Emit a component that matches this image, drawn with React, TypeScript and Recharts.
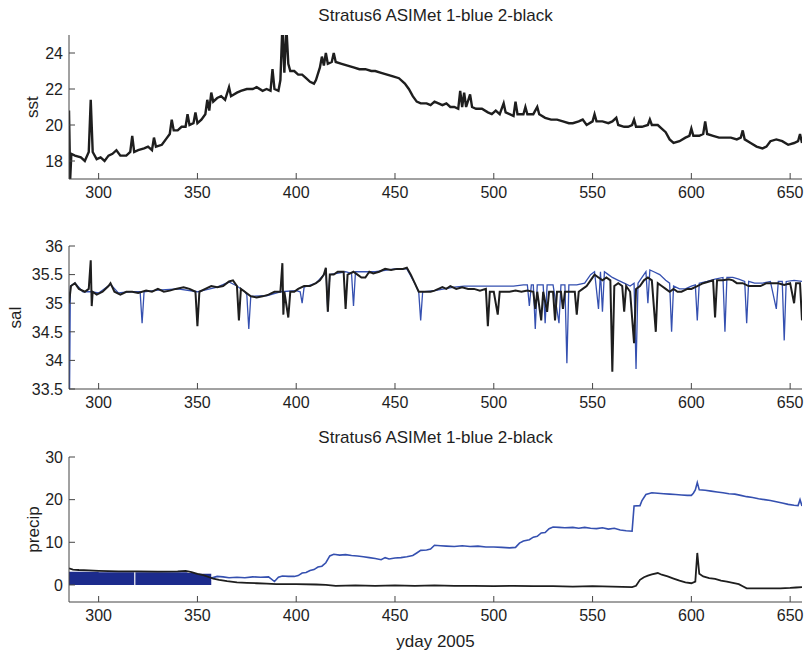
import { ComposedChart, Line, Area, XAxis, YAxis } from 'recharts'

const FONT = '"Liberation Sans", Arial, Helvetica, sans-serif'
const AXIS = '#454545'
const INK = '#1e1e1e'
const BLUE = '#3550b0'
const NAVY = '#1c2b8c'
const TICK = 6

const X_DOMAIN = [285, 656]
const X_TICKS = [300, 350, 400, 450, 500, 550, 600, 650]
const TITLE = 'Stratus6 ASIMet 1-blue 2-black'

// sst, sensor 2 (black); sensor 1 sits underneath it
const SST_DAY = [285, 285.6, 286.2, 288, 291, 293, 295, 296, 297, 299, 301, 303, 305, 307, 309, 311, 314, 316, 317, 318, 320, 323, 325, 327, 328, 329, 332, 334, 336, 337, 338, 340, 342, 344, 345, 346, 348, 349, 350, 352, 354, 355, 356, 357, 358, 360, 362, 364, 366, 367, 370, 372, 375, 378, 380, 383, 385, 387, 388, 389, 391, 392, 393, 394, 395, 396, 397, 399, 401, 403, 405, 407, 409, 410, 412, 413, 414, 415, 416, 418, 419, 420, 423, 426, 429, 432, 435, 438, 440, 443, 446, 449, 452, 455, 457, 459, 461, 463, 466, 468, 470, 472, 474, 476, 478, 480, 482, 483, 484, 485, 486, 488, 489, 491, 494, 497, 499, 501, 503, 505, 506, 508, 510, 511, 512, 515, 516, 517, 520, 522, 523, 526, 529, 532, 535, 538, 540, 543, 545, 547, 550, 551, 552, 555, 558, 560, 562, 563, 566, 568, 570, 571, 572, 575, 578, 579, 580, 583, 585, 587, 589, 591, 594, 597, 599, 600, 601, 604, 606, 607, 608, 611, 614, 617, 620, 623, 625, 626, 627, 630, 633, 636, 638, 640, 643, 646, 649, 652, 654, 655, 656]
const SST_BLACK = [20.8, 17.0, 18.4, 18.3, 18.2, 18.0, 18.5, 21.4, 18.5, 18.1, 18.2, 18.0, 18.3, 18.4, 18.6, 18.3, 18.3, 18.5, 19.4, 18.5, 18.6, 18.7, 18.8, 18.6, 19.3, 18.8, 18.9, 19.2, 19.5, 20.3, 19.7, 19.7, 19.9, 19.9, 20.6, 20.0, 20.1, 20.7, 20.1, 20.3, 20.6, 21.4, 20.8, 21.8, 21.3, 21.5, 21.6, 21.4, 22.1, 21.6, 21.8, 21.9, 22.0, 22.0, 22.1, 21.9, 22.0, 21.9, 23.1, 22.0, 21.9, 22.5, 25.5, 22.9, 25.5, 23.4, 23.0, 23.0, 22.8, 22.8, 22.6, 22.4, 22.3, 22.5, 23.2, 23.8, 23.3, 24.0, 23.4, 23.5, 24.0, 23.5, 23.4, 23.3, 23.2, 23.1, 23.1, 23.0, 23.0, 22.9, 22.8, 22.7, 22.6, 22.3, 22.0, 21.6, 21.3, 21.2, 21.2, 21.1, 21.3, 21.2, 21.1, 21.2, 21.0, 21.0, 20.9, 21.9, 21.0, 21.8, 21.0, 21.7, 21.0, 20.9, 20.9, 20.7, 20.6, 20.8, 20.6, 21.2, 20.7, 20.6, 20.5, 21.3, 20.6, 20.6, 21.0, 20.6, 20.6, 21.0, 20.6, 20.4, 20.3, 20.3, 20.2, 20.1, 20.1, 20.2, 20.3, 20.0, 20.2, 20.6, 20.2, 20.2, 20.1, 20.2, 20.4, 20.0, 19.9, 19.9, 20.0, 20.3, 19.9, 19.9, 20.0, 20.3, 20.0, 20.0, 19.8, 19.6, 19.2, 19.0, 19.1, 19.3, 19.4, 19.8, 19.4, 19.4, 19.5, 20.2, 19.5, 19.4, 19.3, 19.3, 19.3, 19.2, 19.3, 19.7, 19.2, 19.0, 18.8, 18.7, 18.8, 19.1, 19.2, 19.1, 18.9, 19.0, 19.1, 19.5, 19.0]

// salinity, sensor 1 (blue)
const SAL_BLUE_DAY = [285, 285.3, 285.7, 288, 292, 296, 300, 306, 310, 316, 321, 322, 323, 330, 340, 350, 360, 366, 370, 374, 375, 376, 377, 385, 392, 400, 402, 403, 404, 410, 414, 415, 416, 417, 425, 428, 429, 430, 440, 450, 456, 460, 462, 463, 464, 470, 480, 485, 490, 495, 500, 505, 510, 515, 517, 518, 519, 520, 521, 522, 525, 526, 527, 530, 533, 534, 536, 537, 538, 542, 546, 549, 551, 553, 554, 555, 556, 558, 560, 563, 566, 569, 571, 572, 573, 575, 577, 578, 579, 581, 584, 587, 589, 590, 591, 594, 597, 600, 602, 603, 604, 608, 612, 616, 617, 618, 621, 624, 627, 628, 629, 632, 636, 640, 643, 644, 646, 647, 648, 652, 656]
const SAL_BLUE = [35.2, 33.5, 35.3, 35.35, 35.2, 35.2, 35.18, 35.33, 35.18, 35.2, 35.2, 34.65, 35.2, 35.23, 35.25, 35.2, 35.28, 35.37, 35.3, 35.2, 35.15, 34.55, 35.12, 35.13, 35.2, 35.22, 35.2, 35.0, 35.28, 35.35, 35.5, 35.6, 34.85, 35.5, 35.55, 35.52, 34.95, 35.55, 35.55, 35.6, 35.6, 35.35, 35.2, 34.7, 35.2, 35.22, 35.28, 35.3, 35.3, 35.3, 35.3, 35.3, 35.3, 35.32, 35.32, 34.95, 35.32, 35.32, 34.55, 35.32, 35.32, 34.65, 35.32, 35.32, 34.65, 35.32, 35.32, 33.95, 35.32, 35.32, 35.35, 35.5, 35.55, 34.9, 35.55, 34.85, 35.55, 35.5, 35.45, 35.4, 35.35, 35.3, 35.35, 33.85, 35.35, 35.45, 35.55, 35.0, 35.58, 35.55, 35.5, 35.4, 35.35, 34.5, 35.3, 35.25, 35.25, 35.3, 35.32, 34.7, 35.35, 35.38, 35.42, 35.45, 34.5, 35.45, 35.45, 35.42, 35.38, 34.65, 35.38, 35.35, 35.35, 35.38, 34.9, 35.38, 35.38, 34.35, 35.38, 35.4, 35.38]

// salinity, sensor 2 (black)
const SAL_BLACK_DAY = [285, 286, 288, 290, 293, 295, 296, 296.5, 297, 299, 302, 305, 306, 308, 311, 314, 317, 320, 324, 327, 330, 333, 336, 339, 343, 346, 349, 350, 351, 354, 357, 360, 363, 366, 368, 370, 371, 372, 374, 377, 380, 383, 386, 389, 392, 393, 393.5, 394, 396, 397, 399, 401, 404, 407, 410, 412, 414, 415, 416, 417, 419, 421, 424, 425, 426, 429, 431, 433, 435, 437, 439, 442, 445, 448, 451, 454, 456, 458, 460, 462, 465, 468, 470, 472, 474, 476, 478, 481, 484, 487, 490, 493, 496, 497, 498, 500, 502, 503, 505, 508, 511, 514, 517, 520, 521, 522, 524, 525, 527, 528, 530, 531, 532, 534, 535, 536, 539, 541, 542, 543, 545, 547, 549, 551, 553, 555, 557, 559, 560, 561, 563, 565, 566, 567, 569, 571, 572, 574, 576, 578, 580, 582, 583, 585, 587, 589, 591, 593, 595, 598, 600, 603, 606, 609, 611, 612, 613, 616, 619, 621, 623, 626, 629, 632, 635, 638, 641, 644, 647, 650, 652, 653, 655, 656]
const SAL_BLACK = [35.0, 35.3, 35.35, 35.25, 35.2, 35.25, 35.75, 34.95, 35.2, 35.15, 35.2, 35.3, 35.35, 35.2, 35.15, 35.2, 35.2, 35.18, 35.22, 35.2, 35.25, 35.2, 35.22, 35.25, 35.28, 35.25, 35.2, 34.6, 35.2, 35.25, 35.3, 35.28, 35.3, 35.38, 35.4, 35.3, 34.7, 35.25, 35.2, 35.12, 35.1, 35.12, 35.15, 35.2, 35.2, 35.7, 34.8, 35.2, 34.75, 35.2, 35.2, 35.25, 35.3, 35.3, 35.35, 35.4, 35.5, 35.62, 34.85, 35.5, 35.5, 35.55, 35.55, 34.9, 35.5, 35.55, 35.5, 35.45, 35.45, 35.55, 35.52, 35.55, 35.6, 35.58, 35.6, 35.6, 35.62, 35.5, 35.35, 35.2, 35.2, 35.2, 35.22, 35.25, 35.28, 35.25, 35.3, 35.25, 35.28, 35.25, 35.25, 35.22, 35.25, 34.6, 35.2, 35.2, 34.8, 35.2, 35.2, 35.2, 35.22, 35.2, 35.22, 35.2, 34.9, 35.2, 34.7, 35.2, 34.85, 35.2, 35.2, 34.7, 35.2, 35.2, 34.9, 35.2, 35.2, 35.2, 34.8, 35.2, 35.25, 35.3, 35.4, 35.5, 35.45, 35.4, 35.45, 35.4, 33.8, 35.3, 35.35, 35.3, 34.85, 35.3, 35.2, 34.3, 35.25, 35.3, 35.4, 35.45, 35.4, 34.5, 35.35, 35.3, 35.25, 35.2, 35.25, 35.2, 35.2, 35.25, 35.25, 35.3, 35.35, 35.38, 35.4, 34.75, 35.4, 35.4, 35.42, 35.4, 35.35, 35.35, 35.3, 35.3, 35.3, 35.35, 35.35, 35.35, 35.32, 35.35, 35.0, 35.35, 35.35, 34.7]

// precip, sensor 1 noisy early record (blue band)
const RAIN_BAND_DAY = [285, 300, 317.8, 318, 318.6, 330, 340, 345, 350, 357]
const RAIN_BAND = [3.1, 3.0, 3.0, 0, 3.0, 3.0, 3.0, 2.8, 2.6, 2.3]

// precip, sensor 1 (blue)
const RAIN_BLUE_DAY = [357, 360, 363, 366, 370, 374, 378, 382, 386, 389, 391, 393, 396, 399, 401, 403, 405, 407, 409, 411, 413, 415, 417, 419, 422, 425, 428, 431, 434, 437, 440, 443, 445, 447, 450, 453, 456, 459, 461, 463, 466, 468, 470, 473, 476, 480, 484, 488, 492, 496, 500, 504, 508, 511, 513, 515, 518, 520, 522, 524, 526, 528, 530, 533, 536, 540, 543, 546, 549, 552, 555, 558, 561, 564, 567, 570, 571, 574, 575, 577, 580, 583, 586, 589, 592, 595, 598, 600, 601, 602, 603, 604, 607, 610, 613, 616, 619, 622, 625, 628, 631, 634, 637, 640, 643, 646, 649, 652, 654, 655, 656]
const RAIN_BLUE = [1.6, 2.0, 1.9, 1.7, 1.8, 1.7, 1.9, 1.8, 1.9, 0.8, 1.8, 2.1, 2.0, 2.0, 2.2, 2.8, 2.9, 3.4, 3.6, 4.2, 4.4, 5.2, 6.8, 7.2, 7.0, 7.1, 6.9, 6.8, 6.6, 6.4, 6.2, 5.9, 6.4, 6.1, 6.3, 6.4, 6.6, 6.9, 7.5, 8.1, 8.2, 8.4, 9.3, 9.2, 9.1, 9.0, 9.2, 9.0, 9.1, 8.9, 8.9, 8.8, 8.7, 8.8, 9.8, 10.3, 10.6, 11.2, 11.4, 12.2, 12.3, 13.2, 13.6, 13.5, 13.4, 13.5, 13.3, 13.5, 13.3, 13.2, 13.4, 13.1, 13.3, 12.9, 12.7, 12.6, 18.5, 18.6, 19.8, 21.2, 21.6, 21.5, 21.4, 21.3, 21.2, 21.1, 21.0, 21.0, 21.5, 22.3, 24.0, 22.3, 22.2, 22.0, 21.8, 21.6, 21.4, 21.3, 21.0, 20.7, 20.5, 20.2, 20.0, 19.8, 19.5, 19.2, 18.9, 18.7, 18.6, 20.0, 18.5]

// precip, sensor 2 (black)
const RAIN_BLACK_DAY = [285, 287, 290, 295, 300, 310, 320, 330, 340, 344, 347, 350, 353, 356, 358, 361, 365, 370, 375, 380, 385, 390, 395, 400, 410, 415, 420, 430, 440, 450, 460, 470, 480, 490, 500, 510, 520, 530, 540, 550, 560, 570, 572, 574, 576, 578, 580, 583, 585, 588, 591, 594, 597, 600, 602, 603, 604, 606, 609, 612, 615, 618, 621, 624, 626, 628, 635, 640, 645, 650, 653, 656]
const RAIN_BLACK = [3.9, 3.6, 3.5, 3.4, 3.3, 3.2, 3.2, 3.1, 3.2, 3.3, 3.0, 2.6, 2.3, 1.8, 1.5, 1.2, 0.9, 0.6, 0.5, 0.4, 0.3, 0.2, 0.2, 0.2, 0.1, 0.0, -0.2, -0.1, -0.2, -0.1, -0.2, -0.1, -0.2, -0.2, -0.3, -0.2, -0.3, -0.3, -0.4, -0.3, -0.4, -0.5, -0.2, 1.2, 1.8, 2.2, 2.5, 2.8, 2.4, 2.0, 1.5, 1.0, 0.6, 0.4, 0.8, 7.5, 2.6, 2.0, 1.6, 1.4, 1.0, 0.8, 0.5, 0.2, -0.3, -0.8, -0.8, -0.8, -0.8, -0.7, -0.6, -0.5]

const pts = (days: number[], vals: number[]) => days.map((d, i) => ({ d, v: vals[i] }))

function BottomTick({ x, y, payload }: any) {
  return (
    <g>
      <line x1={x} x2={x} y1={y} y2={y - TICK} stroke={AXIS} />
      <text x={x} y={y + 8} dy="0.71em" textAnchor="middle" fontSize={16} fill={INK} fontFamily={FONT}>
        {payload.value}
      </text>
    </g>
  )
}

function TopTick({ x, y }: any) {
  return <line x1={x} x2={x} y1={y} y2={y + TICK} stroke={AXIS} />
}

function LeftTick({ x, y, payload }: any) {
  return (
    <g>
      <line x1={x} x2={x + TICK} y1={y} y2={y} stroke={AXIS} />
      <text x={x - 6} y={y} dy="0.36em" textAnchor="end" fontSize={16} fill={INK} fontFamily={FONT}>
        {payload.value}
      </text>
    </g>
  )
}

function RightTick({ x, y }: any) {
  return <line x1={x} x2={x - TICK} y1={y} y2={y} stroke={AXIS} />
}

interface PanelProps {
  top: number
  height: number
  marginTop: number
  axisHeight: number
  yDomain: number[]
  yTicks: number[]
  yLabel: string
  yLabelX: number
  xLabel?: string
  children: React.ReactNode
}

function Panel({ top, height, marginTop, axisHeight, yDomain, yTicks, yLabel, yLabelX, xLabel, children }: PanelProps) {
  return (
    <div style={{ position: 'absolute', left: 0, top }}>
      <ComposedChart width={807} height={height} margin={{ top: marginTop, right: 5, bottom: 0, left: 0 }}>
        <XAxis
          dataKey="d"
          type="number"
          domain={X_DOMAIN}
          ticks={X_TICKS}
          allowDataOverflow
          height={axisHeight}
          tickSize={0}
          tickMargin={0}
          tickLine={false}
          axisLine={{ stroke: AXIS }}
          tick={BottomTick}
          label={xLabel ? { value: xLabel, position: 'insideBottom', offset: 3, fontSize: 17, fill: INK, fontFamily: FONT } : undefined}
        />
        <XAxis
          xAxisId="top"
          orientation="top"
          dataKey="d"
          type="number"
          domain={X_DOMAIN}
          ticks={X_TICKS}
          allowDataOverflow
          height={0}
          tickSize={0}
          tickMargin={0}
          tickLine={false}
          axisLine={{ stroke: AXIS }}
          tick={TopTick}
        />
        <YAxis
          type="number"
          domain={yDomain}
          ticks={yTicks}
          allowDataOverflow
          width={69}
          tickSize={0}
          tickMargin={0}
          tickLine={false}
          axisLine={{ stroke: AXIS }}
          tick={LeftTick}
          label={{ value: yLabel, angle: -90, position: 'insideLeft', offset: yLabelX, fontSize: 17, fill: INK, fontFamily: FONT, style: { textAnchor: 'middle' } }}
        />
        <YAxis
          yAxisId="right"
          orientation="right"
          type="number"
          domain={yDomain}
          ticks={yTicks}
          allowDataOverflow
          width={0}
          tickSize={0}
          tickMargin={0}
          tickLine={false}
          axisLine={{ stroke: AXIS }}
          tick={RightTick}
        />
        {children}
      </ComposedChart>
    </div>
  )
}

const titleStyle = (top: number): React.CSSProperties => ({
  position: 'absolute',
  top,
  left: 69,
  width: 733,
  textAlign: 'center',
  fontFamily: FONT,
  fontSize: 17,
  lineHeight: '20px',
  color: INK,
})

export default function App() {
  return (
    <div style={{ position: 'absolute', left: 0, top: 0, width: 807, height: 650, background: '#fff' }}>
      <div style={titleStyle(6)}>{TITLE}</div>
      <Panel top={0} height={215} marginTop={35} axisHeight={36} yDomain={[17, 25]} yTicks={[18, 20, 22, 24]} yLabel="sst" yLabelX={32}>
        <Line data={pts(SST_DAY, SST_BLACK)} dataKey="v" stroke={INK} strokeWidth={2.4} dot={false} activeDot={false} isAnimationActive={false} />
      </Panel>

      <Panel top={210} height={220} marginTop={36} axisHeight={41} yDomain={[33.5, 36]} yTicks={[33.5, 34, 34.5, 35, 35.5, 36]} yLabel="sal" yLabelX={15}>
        <Line data={pts(SAL_BLUE_DAY, SAL_BLUE)} dataKey="v" stroke={BLUE} strokeWidth={1.3} dot={false} activeDot={false} isAnimationActive={false} />
        <Line data={pts(SAL_BLACK_DAY, SAL_BLACK)} dataKey="v" stroke={INK} strokeWidth={2} dot={false} activeDot={false} isAnimationActive={false} />
      </Panel>

      <div style={titleStyle(428)}>{TITLE}</div>
      <Panel top={430} height={220} marginTop={27} axisHeight={48} yDomain={[-4, 30]} yTicks={[0, 10, 20, 30]} yLabel="precip" yLabelX={33} xLabel="yday 2005">
        <Area data={pts(RAIN_BAND_DAY, RAIN_BAND)} dataKey="v" type="stepAfter" stroke="none" fill={NAVY} fillOpacity={1} baseValue={0} dot={false} activeDot={false} isAnimationActive={false} />
        <Line data={pts(RAIN_BLUE_DAY, RAIN_BLUE)} dataKey="v" stroke={BLUE} strokeWidth={1.6} dot={false} activeDot={false} isAnimationActive={false} />
        <Line data={pts(RAIN_BLACK_DAY, RAIN_BLACK)} dataKey="v" stroke={INK} strokeWidth={1.8} dot={false} activeDot={false} isAnimationActive={false} />
      </Panel>
    </div>
  )
}
